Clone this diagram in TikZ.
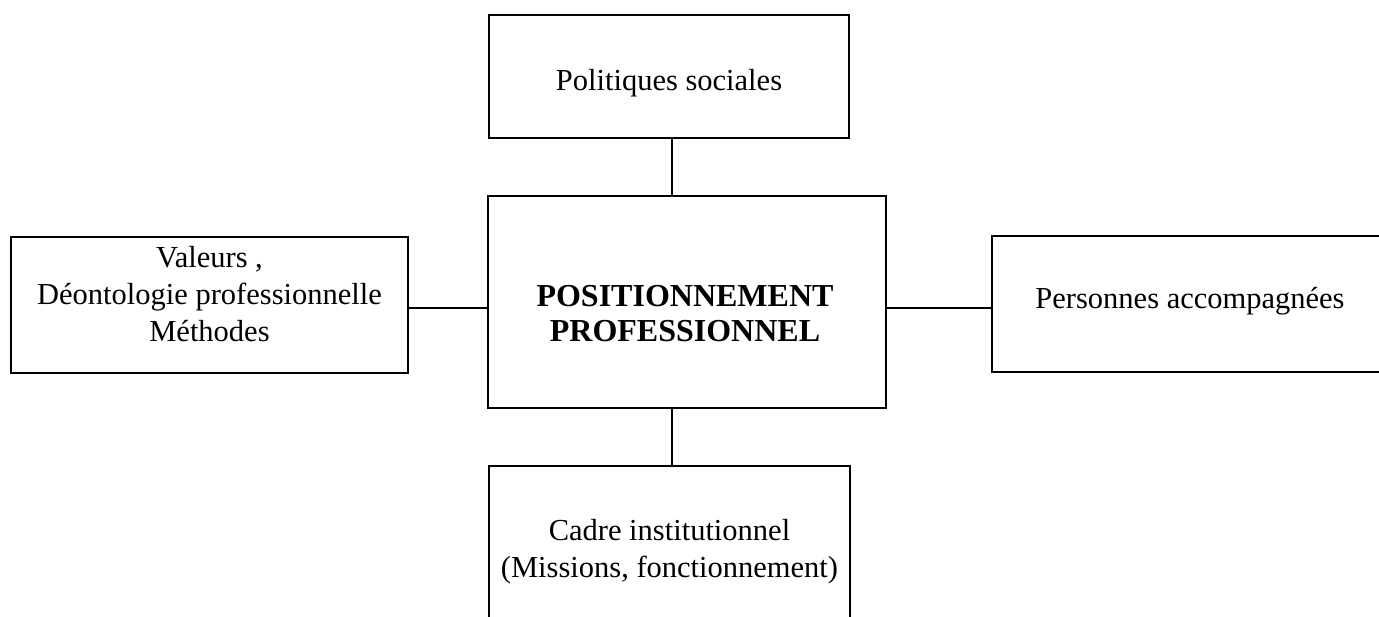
\documentclass[tikz,border=0pt]{standalone}
\usepackage{fontspec}
\setmainfont{Liberation Serif}
\begin{document}
\begin{tikzpicture}[x=1pt,y=-1pt,
  boxstyle/.style={draw=black,line width=1.1pt,inner sep=0pt,rectangle},
  txt/.style={align=center,inner sep=0pt,anchor=base,font=\fontsize{30.5}{37}\selectfont},
  btxt/.style={txt,font=\fontsize{32}{35}\selectfont\bfseries},
  conn/.style={draw=black,line width=1.1pt}]
\useasboundingbox (0,0) rectangle (1379,617);
\node[boxstyle,minimum width=360pt,minimum height=123pt] (top) at (669,76.5) {};
\node[boxstyle,minimum width=398pt,minimum height=212pt] (center) at (687,302) {};
\node[boxstyle,minimum width=397pt,minimum height=136pt] (left) at (209.5,305) {};
\node[boxstyle,minimum width=396pt,minimum height=136pt] (right) at (1190,304) {};
\node[boxstyle,minimum width=361pt,minimum height=180pt] (bottom) at (669.5,556) {};
\node[txt] (toptxt) at (669,91) {Politiques sociales};
\node[btxt] (centertxt) at (685,342) {POSITIONNEMENT\\PROFESSIONNEL};
\node[txt] (lefttxt) at (209.5,342) {Valeurs ,\\Déontologie professionnelle\\Méthodes};
\node[txt] (righttxt) at (1190,309) {Personnes accompagnées};
\node[txt] (bottomtxt) at (669.5,577) {Cadre institutionnel\\(Missions, fonctionnement)};
\draw[conn] (top.south) ++(3,0) coordinate (a) -- (a |- center.north);
\draw[conn] (bottom.north) ++(2.5,0) coordinate (b) -- (b |- center.south);
\draw[conn] (left.east) ++(0,3) coordinate (c) -- (c -| center.west);
\draw[conn] (right.west) ++(0,4) coordinate (d) -- (d -| center.east);
\end{tikzpicture}
\end{document}
